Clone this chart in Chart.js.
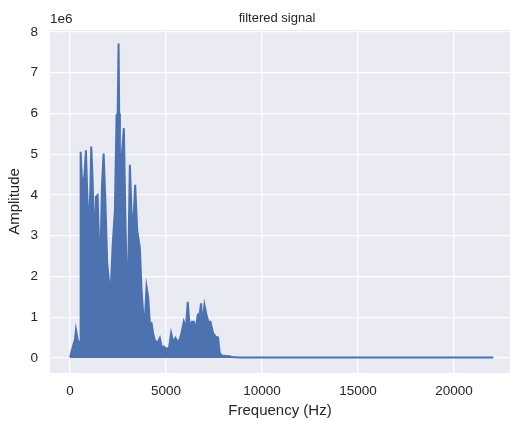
<!DOCTYPE html>
<html>
<head>
<meta charset="utf-8">
<script src="https://cdn.jsdelivr.net/npm/chart.js@4"></script>
<style>
  html, body { margin: 0; padding: 0; background: #fff; }
</style>
</head>
<body>
<canvas id="fftChart" width="510" height="421"></canvas>
<script>
// spectrum: frequency in Hz, amplitude in units of 1e6
const freqHz = [
  0, 26, 104, 208, 260, 312, 364, 400, 484, 530, 556, 624, 692, 754, 832,
  920, 1004, 1066, 1108, 1180, 1264, 1352, 1440, 1524, 1576, 1664, 1752, 1836,
  1940, 2044, 2132, 2220, 2252, 2340, 2428, 2486, 2532, 2564, 2600, 2688, 2808,
  2876, 2948, 3032, 3120, 3208, 3292, 3396, 3500, 3640, 3728, 3812, 3916, 3988,
  4072, 4160, 4248, 4332, 4420, 4540, 4680, 4784, 4888, 5028, 5164, 5268, 5372,
  5496, 5580, 5720, 5808, 5928, 6032, 6136, 6240, 6344, 6448, 6552, 6656, 6760,
  6828, 6900, 7004, 7108, 7212, 7316, 7452, 7592, 7712, 7800, 7904, 8112, 8320,
  8424, 8840, 22050
];
const amplitude = [
  0.02, 0.05, 0.2, 0.37, 0.45, 0.69, 0.55, 0.44, 0.37, 0.4, 5.06, 4.37, 4.3, 4.5, 5.1,
  3.71, 3.47, 4.2, 5.19, 4.37, 2.65, 3.96, 4.0, 2.65, 2.16, 4.2, 5.02, 3.96,
  2.32, 1.83, 1.75, 2.73, 2.98, 3.63, 5.96, 6.0, 7.72, 6.0, 4.94, 4.9, 5.64,
  3.71, 2.0, 2.1, 4.74, 3.55, 3.2, 4.25, 3.14, 2.7, 1.67, 1.1, 1.05, 1.75,
  1.5, 0.86, 0.86, 0.6, 0.44, 0.36, 0.49, 0.25, 0.28, 0.22, 0.25, 0.61, 0.4,
  0.49, 0.4, 0.45, 0.61, 0.89, 0.7, 1.38, 0.7, 0.89, 0.89, 0.7, 1.06, 1.1,
  1.34, 0.8, 1.3, 1.06, 0.89, 0.89, 0.61, 0.52, 0.5, 0.12, 0.06, 0.05, 0.04,
  0.02, 0.01, 0.01
];
const xTicks = [0, 5000, 10000, 15000, 20000];
const yTicks = [0, 1, 2, 3, 4, 5, 6, 7, 8];

const FONT = "'Liberation Sans', Arial, sans-serif";
const TEXT = "#262626";

// axes face + title + "1e6" offset text
const decor = {
  id: "decor",
  beforeDraw(chart) {
    const { ctx, chartArea: a } = chart;
    ctx.save();
    ctx.fillStyle = "#EAEAF2";
    ctx.fillRect(a.left, a.top, a.right - a.left, a.bottom - a.top);
    ctx.restore();
  },
  afterDraw(chart) {
    const { ctx, chartArea: a } = chart;
    ctx.save();
    ctx.fillStyle = TEXT;
    ctx.font = "13px " + FONT;
    ctx.textAlign = "center";
    ctx.textBaseline = "middle";
    ctx.fillText("filtered signal", 277, 18);
    ctx.font = "13.5px " + FONT;
    ctx.textAlign = "left";
    ctx.fillText("1e6", a.left, 19);
    ctx.restore();
  }
};

const points = freqHz.map((f, i) => ({ x: f, y: amplitude[i] }));

new Chart(document.getElementById("fftChart").getContext("2d"), {
  type: "line",
  data: {
    datasets: [{
      label: "filtered signal",
      data: points,
      borderColor: "#4C72B0",
      backgroundColor: "#4C72B0",
      borderWidth: 2,
      pointRadius: 0,
      tension: 0,
      fill: "origin"
    }]
  },
  options: {
    responsive: false,
    animation: false,
    layout: { padding: { top: 30, right: 0, left: 0, bottom: 0 } },
    plugins: { legend: { display: false }, tooltip: { enabled: false }, title: { display: false } },
    scales: {
      x: {
        type: "linear",
        min: -1040,
        max: 22920,
        afterBuildTicks: s => { s.ticks = xTicks.map(v => ({ value: v })); },
        afterFit: s => { s.height = 48; },
        grid: { color: "#ffffff", lineWidth: 1.3, drawTicks: false },
        border: { display: false },
        ticks: { color: TEXT, font: { family: FONT, size: 13.5 }, padding: 10, maxRotation: 0, callback: v => String(v) },
        title: { display: true, text: "Frequency (Hz)", color: TEXT, font: { family: FONT, size: 15 }, padding: { top: 0, bottom: 1 } }
      },
      y: {
        min: -0.37,
        max: 8.05,
        afterBuildTicks: s => { s.ticks = yTicks.map(v => ({ value: v })); },
        afterFit: s => { s.width = 50; },
        grid: { color: "#ffffff", lineWidth: 1.3, drawTicks: false },
        border: { display: false },
        ticks: { color: TEXT, font: { family: FONT, size: 13.5 }, padding: 12, callback: v => String(v) },
        title: { display: true, text: "Amplitude", color: TEXT, font: { family: FONT, size: 15 }, padding: { top: 6, bottom: 0 } }
      }
    }
  },
  plugins: [decor]
});
</script>
</body>
</html>
